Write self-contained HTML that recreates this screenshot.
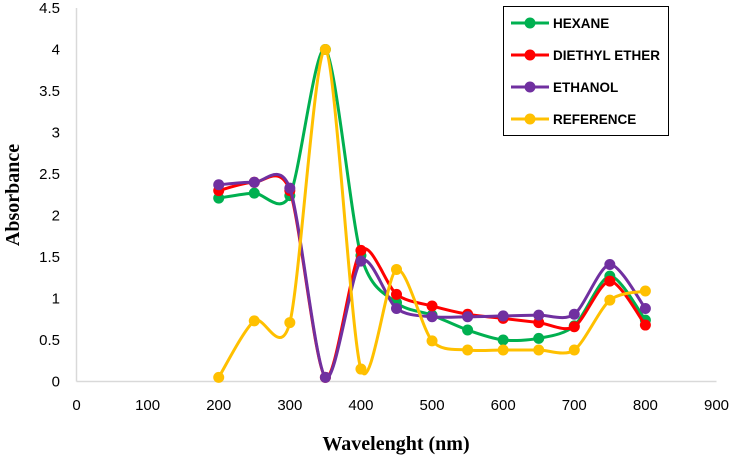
<!DOCTYPE html>
<html><head><meta charset="utf-8"><style>
body{margin:0;background:#fff;}
svg{display:block;font-family:"Liberation Sans",Calibri,sans-serif;}
</style></head><body>
<svg id="chart" width="733" height="461"></svg>
<script>
const wavelengths=[200,250,300,350,400,450,500,550,600,650,700,750,800];
const hexane=[2.21,2.27,2.24,4.0,1.52,0.95,0.8,0.62,0.5,0.52,0.67,1.27,0.74];
const diethyl=[2.3,2.4,2.3,0.05,1.58,1.05,0.91,0.81,0.76,0.71,0.66,1.21,0.68];
const ethanol=[2.37,2.4,2.33,0.05,1.45,0.88,0.78,0.78,0.79,0.8,0.81,1.41,0.88];
const reference=[0.05,0.73,0.71,4.0,0.15,1.35,0.49,0.38,0.38,0.38,0.38,0.98,1.09];
const xTicks=[0,100,200,300,400,500,600,700,800,900];
const yTicks=[0,0.5,1,1.5,2,2.5,3,3.5,4,4.5];
const seriesNames=["HEXANE","DIETHYL ETHER","ETHANOL","REFERENCE"];
const seriesColors=["#00b050","#ff0000","#7030a0","#ffc000"];
const seriesData=[hexane,diethyl,ethanol,reference];

const NS="http://www.w3.org/2000/svg";
const svg=document.getElementById('chart');
const X0=76.5,X1=716.5,Y0=381.5,Y1=8;
const xs=v=>X0+(v-0)/900*(X1-X0);
const ys=v=>Y0-(v/4.5)*(Y0-Y1);
function mk(tag,attrs,parent){const e=document.createElementNS(NS,tag);for(const k in attrs)e.setAttribute(k,attrs[k]);(parent||svg).appendChild(e);return e;}

const axis=mk('g',{});


const xl=mk('line',{x1:X0,y1:Y0,x2:X1,y2:Y0,stroke:'#d9d9d9','stroke-width':1.5},axis);


const yl=mk('line',{x1:X0,y1:Y0,x2:X0,y2:Y1,stroke:'#d9d9d9','stroke-width':1.5},axis);


xTicks.forEach(t=>{const e=mk('text',{x:xs(t),y:410,'text-anchor':'middle','font-size':15,fill:'#000'},axis);e.textContent=t;

});
yTicks.forEach(t=>{const e=mk('text',{x:60,y:ys(t)+5,'text-anchor':'end','font-size':15,fill:'#000'},axis);e.textContent=t;

});
const xt=mk('text',{x:396,y:450,'text-anchor':'middle','font-size':20,'font-weight':'bold','font-family':'"Liberation Serif",serif'});
xt.textContent='Wavelenght (nm)';


const yt=mk('text',{x:0,y:0,'text-anchor':'middle','font-size':20,'font-weight':'bold','font-family':'"Liberation Serif",serif',transform:'translate(19,195) rotate(-90)'});
yt.textContent='Absorbance';



function smooth(pts){let d=`M${pts[0][0]},${pts[0][1]}`;const t=0.14;
for(let i=0;i<pts.length-1;i++){const p0=pts[i-1]||pts[i],p1=pts[i],p2=pts[i+1],p3=pts[i+2]||p2;
d+=` C${p1[0]+(p2[0]-p0[0])*t},${p1[1]+(p2[1]-p0[1])*t} ${p2[0]-(p3[0]-p1[0])*t},${p2[1]-(p3[1]-p1[1])*t} ${p2[0]},${p2[1]}`;}return d;}

seriesData.forEach((vals,si)=>{
 const g=mk('g',{});
 
 
 const pts=wavelengths.map((w,i)=>[xs(w),ys(vals[i])]);
 const p=mk('path',{d:smooth(pts),fill:'none',stroke:seriesColors[si],'stroke-width':3},g);
 
 
 pts.forEach(pt=>{const c=mk('circle',{cx:pt[0],cy:pt[1],r:5.5,fill:seriesColors[si]},g);
 
 });
});

const lg=mk('g',{});


mk('rect',{x:503.5,y:6.5,width:165,height:129,fill:'#fff',stroke:'#000','stroke-width':1},lg);
seriesNames.forEach((n,i)=>{const y=23+i*32;
 const e=mk('g',{},lg);
 
 
 mk('line',{x1:511,y1:y,x2:549,y2:y,stroke:seriesColors[i],'stroke-width':3},e);
 mk('circle',{cx:530,cy:y,r:5.5,fill:seriesColors[i]},e);
 const t=mk('text',{x:553,y:y+5,'font-size':13.5,'font-weight':'bold',fill:'#000'},e);t.textContent=n;});
</script>
</body></html>
